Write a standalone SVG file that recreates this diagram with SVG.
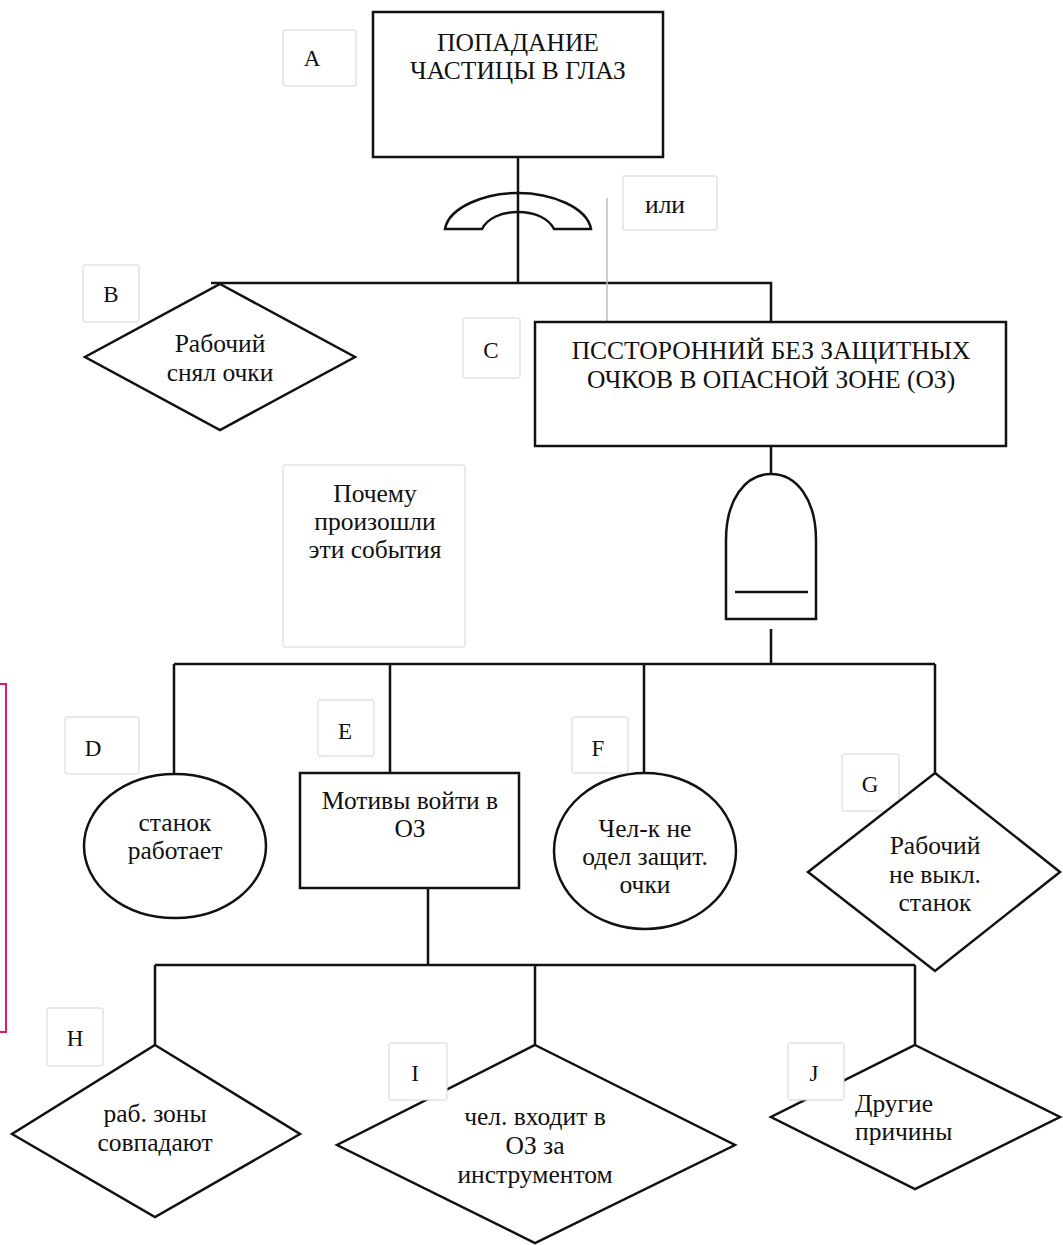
<svg xmlns="http://www.w3.org/2000/svg" width="1063" height="1245" viewBox="0 0 1063 1245">
<style>
  .shape { fill: #fff; stroke: #111; stroke-width: 2.5; stroke-linejoin: miter; }
  .gate { fill: none; stroke: #111; stroke-width: 2.5; }
  .conn { fill: none; stroke: #111; stroke-width: 2.5; }
  .lbl { fill: #fff; stroke: #d4d4d4; stroke-width: 1; }
  text { font-family: "Liberation Serif", "Times New Roman", serif; font-size: 25.5px; fill: #111; text-anchor: middle; }
  .t { font-size: 23px; }
  .s { text-anchor: start; }
</style>
<rect width="1063" height="1245" fill="#fff"/>
<path d="M0,684 H6 V1032 H0" fill="none" stroke="#e8176a" stroke-width="2"/>

<g id="connectors">
  <path class="conn" d="M518,157 V283"/>
  <path class="conn" d="M211,283 H771 V322"/>
  <path class="conn" d="M771,446 V474"/>
  <path class="conn" d="M771,629 V664"/>
  <path class="conn" d="M174,664 H935"/>
  <path class="conn" d="M174,664 V774"/>
  <path class="conn" d="M390,664 V773"/>
  <path class="conn" d="M644,664 V773"/>
  <path class="conn" d="M935,664 V773"/>
  <path class="conn" d="M428,888 V965"/>
  <path class="conn" d="M155,965 H915"/>
  <path class="conn" d="M155,965 V1045"/>
  <path class="conn" d="M535,965 V1045"/>
  <path class="conn" d="M915,965 V1045"/>
  <path d="M607,198 V322" stroke="#bdbdbd" stroke-width="1.5" fill="none"/>
</g>

<g id="gate-or">
  <path class="gate" d="M445,229 C449,207 485,193 518,193 C551,193 587,207 591,229 L554,229 C549,219 536,212 518,212 C500,212 487,219 482,229 Z"/>
</g>
<g id="gate-and">
  <path class="gate" d="M726,619 V540 C726,500 745,474 771,474 C797,474 816,500 816,540 V619 Z"/>
  <path class="gate" d="M735,592 H808"/>
</g>

<g id="node-A">
  <rect class="lbl" x="283" y="30" width="73" height="56" rx="2"/>
  <text class="t" x="312" y="66">A</text>
  <rect class="shape" x="373" y="12" width="290" height="145"/>
  <text x="518" y="51">ПОПАДАНИЕ</text>
  <text x="518" y="79">ЧАСТИЦЫ В ГЛАЗ</text>
</g>

<g id="label-or">
  <rect class="lbl" x="623" y="176" width="94" height="54" rx="1"/>
  <text x="665" y="213">или</text>
</g>

<g id="node-B">
  <rect class="lbl" x="83" y="265" width="56" height="57" rx="2"/>
  <text class="t" x="111" y="302">B</text>
  <polygon class="shape" points="220,284 355,357 220,430 85,357"/>
  <text x="220" y="352">Рабочий</text>
  <text x="220" y="381">снял очки</text>
</g>

<g id="node-C">
  <rect class="lbl" x="463" y="318" width="57" height="60" rx="2"/>
  <text class="t" x="491" y="358">C</text>
  <rect class="shape" x="535" y="322" width="471" height="124"/>
  <text x="771" y="359">ПССТОРОННИЙ БЕЗ ЗАЩИТНЫХ</text>
  <text x="771" y="388">ОЧКОВ В ОПАСНОЙ ЗОНЕ (ОЗ)</text>
</g>

<g id="note-why">
  <rect class="lbl" x="283" y="465" width="182" height="182" rx="2"/>
  <text x="375" y="502">Почему</text>
  <text x="375" y="530">произошли</text>
  <text x="375" y="558">эти события</text>
</g>

<g id="node-D">
  <rect class="lbl" x="65" y="717" width="74" height="57" rx="2"/>
  <text class="t" x="93" y="756">D</text>
  <ellipse class="shape" cx="175" cy="846" rx="91" ry="72"/>
  <text x="175" y="831">станок</text>
  <text x="175" y="859">работает</text>
</g>

<g id="node-E">
  <rect class="lbl" x="318" y="700" width="56" height="56" rx="2"/>
  <text class="t" x="345" y="739">E</text>
  <rect class="shape" x="300" y="773" width="219" height="115"/>
  <text x="410" y="809">Мотивы войти в</text>
  <text x="410" y="837">ОЗ</text>
</g>

<g id="node-F">
  <rect class="lbl" x="572" y="717" width="56" height="56" rx="2"/>
  <text class="t" x="598" y="756">F</text>
  <ellipse class="shape" cx="645" cy="851" rx="91" ry="78"/>
  <text x="645" y="837">Чел-к не</text>
  <text x="645" y="865">одел защит.</text>
  <text x="645" y="893">очки</text>
</g>

<g id="node-G">
  <rect class="lbl" x="842" y="754" width="57" height="57" rx="2"/>
  <text class="t" x="870" y="792">G</text>
  <polygon class="shape" points="935,773 1060,872 935,971 808,872"/>
  <text x="935" y="854">Рабочий</text>
  <text x="935" y="883">не выкл.</text>
  <text x="935" y="911">станок</text>
</g>

<g id="node-H">
  <rect class="lbl" x="47" y="1008" width="56" height="58" rx="2"/>
  <text class="t" x="75" y="1046">H</text>
  <polygon class="shape" points="155,1045 300,1134 155,1217 12,1134"/>
  <text x="155" y="1122">раб. зоны</text>
  <text x="155" y="1151">совпадают</text>
</g>

<g id="node-I">
  <polygon class="shape" points="535,1045 735,1145 535,1243 337,1145"/>
  <rect class="lbl" x="389" y="1043" width="58" height="57" rx="2"/>
  <text class="t" x="415" y="1081">I</text>
  <text x="535" y="1125">чел. входит  в</text>
  <text x="535" y="1154">ОЗ за</text>
  <text x="535" y="1183">инструментом</text>
</g>

<g id="node-J">
  <polygon class="shape" points="915,1045 1060,1117 915,1189 771,1117"/>
  <rect class="lbl" x="788" y="1043" width="56" height="57" rx="2"/>
  <text class="t" x="814" y="1081">J</text>
  <text class="s" x="855" y="1112">Другие</text>
  <text class="s" x="855" y="1140">причины</text>
</g>
</svg>
